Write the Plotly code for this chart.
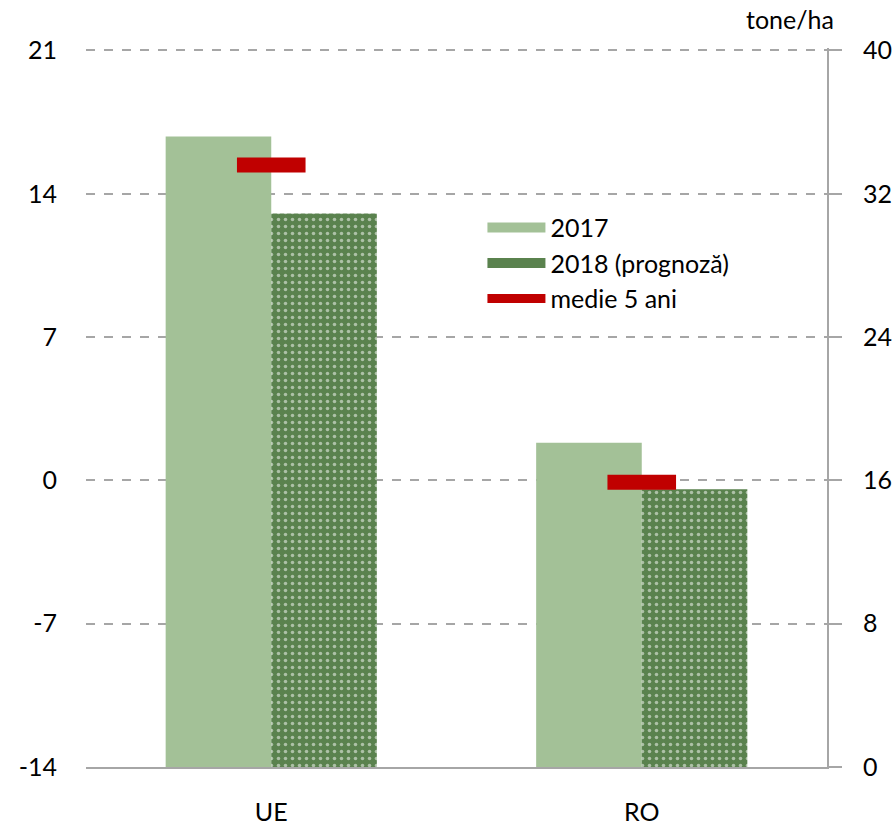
import plotly.graph_objects as go

categories = ["UE", "RO"]
vals_2017 = [35.2, 18.1]
vals_2018 = [30.9, 15.5]
medie_5ani = [33.6, 15.9]
left_ticks = [-14, -7, 0, 7, 14, 21]
right_ticks = [0, 8, 16, 24, 32, 40]

FONT = "Lato"
FS = 25
GRAY = "#A6A6A6"
RED = "#C00000"
LIGHT = "#A3C197"
DARK = "#5A824E"

fig = go.Figure()
# invisible trace so the left axis is drawn
fig.add_trace(go.Scatter(x=categories, y=[None, None], yaxis="y", showlegend=False,
                         hoverinfo="skip", mode="markers"))
fig.add_trace(go.Bar(
    x=categories, y=vals_2017, name="2017", yaxis="y2", showlegend=False,
    marker=dict(color=LIGHT, line=dict(width=0)),
))
fig.add_trace(go.Bar(
    x=categories, y=vals_2018, name="2018 (prognoză)", yaxis="y2", showlegend=False,
    marker=dict(color=DARK, line=dict(width=0),
                pattern=dict(shape=".", fgcolor="white", bgcolor=DARK,
                             size=7, solidity=0.2, fillmode="overlay")),
))
fig.add_trace(go.Scatter(
    x=categories, y=medie_5ani, name="medie 5 ani", yaxis="y2",
    mode="markers", showlegend=False,
    marker=dict(symbol="line-ew", size=49, color=RED,
                line=dict(color=RED, width=15)),
))
# legend entries
for nm, col, w in [("2017", LIGHT, 14), ("2018 (prognoză)", DARK, 14), ("medie 5 ani", RED, 9)]:
    fig.add_trace(go.Scatter(x=[categories[0]], y=[None], name=nm, yaxis="y2",
                             mode="lines", line=dict(color=col, width=w)))

top_pad = 0.12
fig.update_layout(
    width=896, height=825,
    margin=dict(l=86, r=69, t=48, b=58, autoexpand=False),
    plot_bgcolor="white", paper_bgcolor="white",
    font=dict(family=FONT, size=FS, color="#000000"),
    barmode="group", bargap=0.43, bargroupgap=0,
    showlegend=True,
    legend=dict(x=0.535, y=0.782, xanchor="left", yanchor="top",
                bgcolor="rgba(0,0,0,0)", font=dict(size=FS, family=FONT),
                itemwidth=58, tracegroupgap=0),
    xaxis=dict(type="category", showgrid=False, zeroline=False, automargin=False,
               showline=True, linecolor=GRAY, linewidth=2,
               ticks="", ticklabelstandoff=22,
               tickfont=dict(size=FS, family=FONT)),
    yaxis=dict(range=[-14, 21 + top_pad], tickvals=left_ticks,
               ticktext=[str(v) for v in left_ticks],
               showgrid=True, gridcolor=GRAY, griddash="dash", gridwidth=1.5,
               zeroline=False, showline=False, ticks="", automargin=False,
               ticklabelstandoff=28, tickfont=dict(size=FS, family=FONT)),
    yaxis2=dict(range=[0, 40 + top_pad * 40 / 35], tickvals=right_ticks,
                ticktext=[str(v) for v in right_ticks],
                overlaying="y", side="right", showgrid=False, zeroline=False,
                showline=True, linecolor=GRAY, linewidth=2, automargin=False,
                ticks="outside", ticklen=13, tickcolor=GRAY, tickwidth=2,
                ticklabelstandoff=16, tickfont=dict(size=FS, family=FONT)),
    annotations=[dict(text="tone/ha", xref="paper", yref="paper", x=1.012, y=1.0,
                      xanchor="right", yanchor="bottom", yshift=12, showarrow=False,
                      font=dict(size=FS, family=FONT))],
)

fig.write_html("out.html", config={"displayModeBar": False},
               post_script="document.body.style.margin='0';")
